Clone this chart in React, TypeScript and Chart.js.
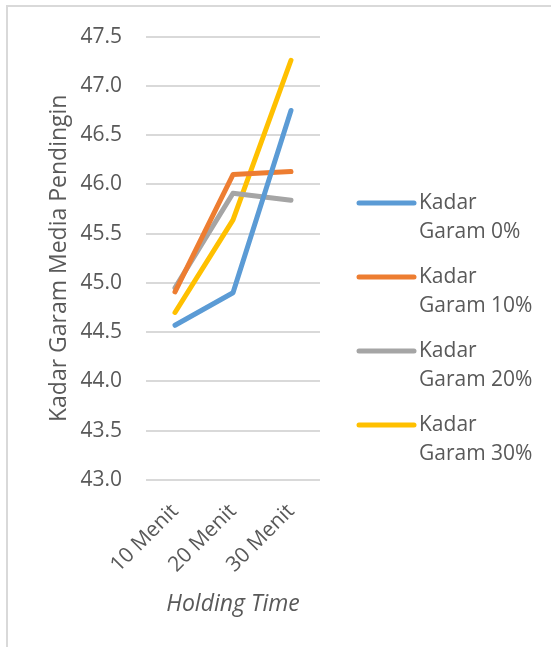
import React, { useEffect, useRef } from "react";
import { Chart, registerables } from "chart.js";

Chart.register(...registerables);

const categories = ["10 Menit", "20 Menit", "30 Menit"];
const seriesNames = ["Kadar Garam 0%", "Kadar Garam 10%", "Kadar Garam 20%", "Kadar Garam 30%"];
const garam0 = [44.57, 44.9, 46.75];
const garam10 = [44.91, 46.1, 46.13];
const garam20 = [44.95, 45.91, 45.84];
const garam30 = [44.7, 45.64, 47.26];
const seriesColors = ["#5B9BD5", "#ED7D31", "#A5A5A5", "#FFC000"];
const yMin = 43;
const yMax = 47.5;
const yStep = 0.5;
const yTitle = "Kadar Garam Media Pendingin";
const xTitle = "Holding Time";

const FONT = "'Open Sans', sans-serif";
const TEXT = "#595959";

const legendPlugin = {
  id: "sideLegend",
  afterDraw(chart: any) {
    const ctx = chart.ctx;
    const x0 = 359;
    const x1 = 414;
    const tx = 419;
    const top = 203;
    const gap = 74;
    const lh = 29;
    ctx.save();
    ctx.font = `21px ${FONT}`;
    ctx.textBaseline = "middle";
    ctx.textAlign = "left";
    chart.data.datasets.forEach((ds: any, i: number) => {
      const y = top + i * gap;
      ctx.strokeStyle = ds.borderColor;
      ctx.lineWidth = 5;
      ctx.lineCap = "round";
      ctx.beginPath();
      ctx.moveTo(x0, y);
      ctx.lineTo(x1, y);
      ctx.stroke();
      const label: string = ds.label;
      const idx = label.indexOf(" ");
      const lines = [label.slice(0, idx), label.slice(idx + 1)];
      ctx.fillStyle = TEXT;
      lines.forEach((t, j) => ctx.fillText(t, tx, y + j * lh));
    });
    ctx.restore();
  },
};

export default function App() {
  const ref = useRef<HTMLCanvasElement>(null);
  useEffect(() => {
    if (!ref.current) return;
    const values = [garam0, garam10, garam20, garam30];
    const chart = new Chart(ref.current, {
      type: "line",
      data: {
        labels: categories,
        datasets: values.map((v, i) => ({
          label: seriesNames[i],
          data: v,
          borderColor: seriesColors[i],
          backgroundColor: seriesColors[i],
          borderWidth: 5,
          pointRadius: 0,
          pointHoverRadius: 0,
          borderCapStyle: "round",
          borderJoinStyle: "round",
          tension: 0,
          fill: false,
        })),
      },
      options: {
        responsive: false,
        animation: false,
        layout: { padding: { left: 40, right: 231, top: 35, bottom: 0 } },
        plugins: { legend: { display: false }, tooltip: { enabled: false } },
        scales: {
          x: {
            offset: true,
            grid: { display: false, drawTicks: false },
            border: { display: false },
            ticks: {
              color: TEXT,
              font: { family: FONT, size: 21 },
              maxRotation: 45,
              minRotation: 45,
              padding: 19,
            },
            title: {
              display: true,
              text: xTitle,
              color: TEXT,
              font: { family: FONT, size: 23, style: "italic" },
              padding: { top: 0, bottom: 29 },
            },
            afterFit(scale: any) {
              scale.height = 167;
            },
          },
          y: {
            min: yMin,
            max: yMax,
            grid: { color: "#D9D9D9", lineWidth: 2, drawTicks: false },
            border: { display: false },
            ticks: {
              stepSize: yStep,
              color: TEXT,
              font: { family: FONT, size: 21 },
              padding: 24,
              callback: (v: any) => Number(v).toFixed(1),
            },
            title: {
              display: true,
              text: yTitle,
              color: TEXT,
              font: { family: FONT, size: 23 },
              padding: { top: 6, bottom: 0 },
            },
            afterFit(scale: any) {
              scale.width = 106;
            },
          },
        },
      },
      plugins: [legendPlugin],
    });
    return () => chart.destroy();
  }, []);

  return (
    <div style={{ position: "fixed", left: 0, top: 0, width: 551, height: 647, background: "#fff", overflow: "hidden" }}>
      <div
        style={{
          position: "absolute",
          left: 6,
          top: 5,
          width: 700,
          height: 800,
          borderLeft: "2px solid #D9D9D9",
          borderTop: "2px solid #D9D9D9",
        }}
      />
      <canvas ref={ref} width={551} height={647} style={{ position: "absolute", left: 0, top: 0 }} />
    </div>
  );
}
